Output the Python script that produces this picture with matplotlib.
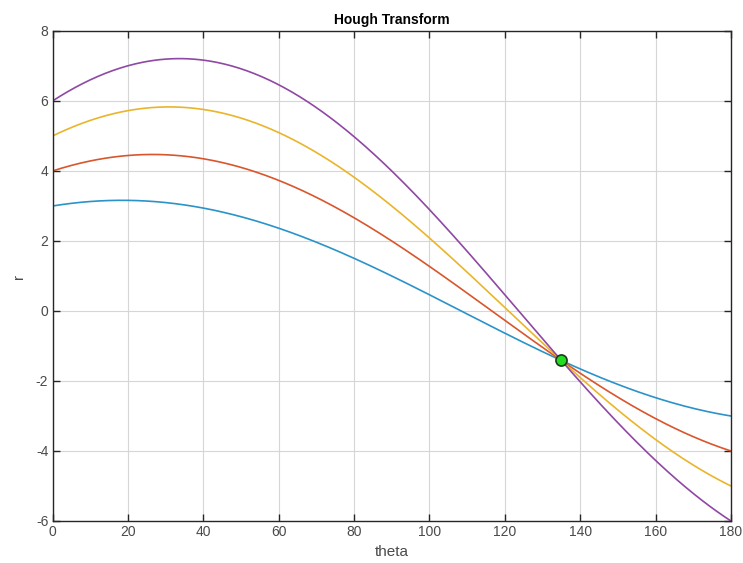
import numpy as np
import matplotlib
matplotlib.use("Agg")
import matplotlib.pyplot as plt

# Image-space points whose Hough curves are plotted
point_x = [3, 4, 5, 6]
point_y = [1, 2, 3, 4]
line_colors = ["#2b93c9", "#d9562c", "#eab52a", "#8f48a3"]
intersect_theta = [135]
intersect_r = [-1.4142]
x_ticks = [0, 20, 40, 60, 80, 100, 120, 140, 160, 180]
y_ticks = [-6, -4, -2, 0, 2, 4, 6, 8]

plt.rcParams['font.family'] = ['Liberation Sans', 'DejaVu Sans']
plt.rcParams['axes.unicode_minus'] = False

fig = plt.figure(figsize=(7.43, 5.63), dpi=100)
ax = fig.add_axes([52.5/743, 1 - 521/563, (731 - 52.5)/743, (521 - 31)/563])

theta = np.linspace(0, 180, 361)
rad = np.deg2rad(theta)
for px, py, c in zip(point_x, point_y, line_colors):
    ax.plot(theta, px*np.cos(rad) + py*np.sin(rad), color=c, lw=1.2)

ax.plot(intersect_theta, intersect_r, 'o', markersize=8, markerfacecolor='#22dd22',
        markeredgecolor='#1a3a1a', markeredgewidth=1.2, zorder=5)

ax.set_xlim(0, 180)
ax.set_ylim(-6, 8)
ax.set_xticks(x_ticks)
ax.set_yticks(y_ticks)
ax.grid(True, color='#d6d6d6', lw=0.8)
ax.set_axisbelow(True)
ax.tick_params(direction='in', top=True, right=True, length=5, width=1,
               labelsize=10, colors='#262626', labelcolor='#4a4a4a', pad=3)
for s in ax.spines.values():
    s.set_linewidth(1.0)
    s.set_color('#262626')
ax.set_title("Hough Transform", fontsize=10, fontweight='bold', pad=5)
ax.set_xlabel("theta", fontsize=11, color='#4a4a4a', labelpad=4)
ax.set_ylabel("r", fontsize=11, color='#4a4a4a')
ax.yaxis.set_label_coords(-27/678.5, 0.5)

fig.savefig("out.png", dpi=100)
